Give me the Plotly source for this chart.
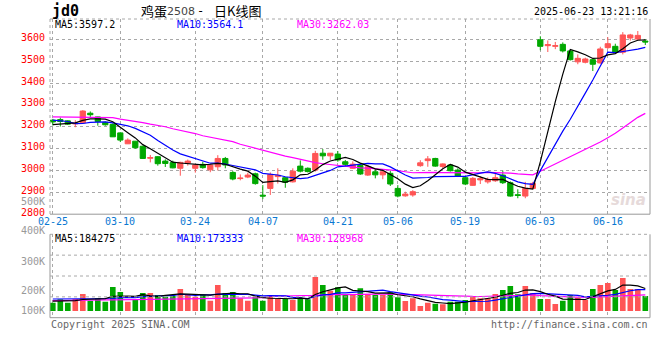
import plotly.graph_objects as go

# ---------------- data ----------------
dates = ["02-25", "02-26", "02-27", "02-28",
         "03-03", "03-04", "03-05", "03-06", "03-07",
         "03-10", "03-11", "03-12", "03-13", "03-14",
         "03-17", "03-18", "03-19", "03-20", "03-21",
         "03-24", "03-25", "03-26", "03-27", "03-28", "03-31",
         "04-01", "04-02", "04-03",
         "04-07", "04-08", "04-09", "04-10", "04-11",
         "04-14", "04-15", "04-16", "04-17", "04-18",
         "04-21", "04-22", "04-23", "04-24", "04-25",
         "04-28", "04-29", "04-30",
         "05-06", "05-07", "05-08", "05-09",
         "05-12", "05-13", "05-14", "05-15", "05-16",
         "05-19", "05-20", "05-21", "05-22", "05-23",
         "05-26", "05-27", "05-28", "05-29", "05-30",
         "06-03", "06-04", "06-05", "06-06",
         "06-09", "06-10", "06-11", "06-12", "06-13",
         "06-16", "06-17", "06-18", "06-19", "06-20",
         "06-23"]

opens = [3230, 3233, 3227, 3213, 3218, 3262, 3245, 3220, 3211, 3172,
         3122, 3134, 3111, 3056, 3063, 3043, 3036, 3010, 3034, 3010,
         3028, 3003, 3017, 3055, 2991, 2963, 2970, 2985, 2887, 2918,
         2972, 2967, 2948, 3020, 3010, 3002, 3079, 3067, 3075, 3040,
         3010, 3023, 2979, 2994, 2980, 2987, 2918, 2884, 2888, 3022,
         3045, 3055, 3018, 3025, 3002, 2967, 2932, 2957, 2948, 2953,
         2979, 2944, 2889, 2883, 2918, 3598, 3571, 3568, 3577, 3547,
         3497, 3495, 3507, 3492, 3562, 3568, 3541, 3606, 3601, 3592]
highs = [3236, 3242, 3230, 3230, 3276, 3270, 3246, 3224, 3215, 3175,
         3147, 3135, 3113, 3071, 3066, 3051, 3045, 3040, 3050, 3030,
         3040, 3027, 3070, 3062, 2997, 2982, 2990, 2990, 2933, 2991,
         3010, 2970, 3010, 3046, 3014, 3090, 3098, 3080, 3089, 3048,
         3042, 3030, 3025, 3008, 3000, 2999, 2933, 2903, 2910, 3047,
         3066, 3058, 3033, 3030, 3010, 2974, 2970, 2974, 2968, 2985,
         2999, 2950, 2914, 2948, 2948, 3614, 3595, 3588, 3586, 3549,
         3531, 3516, 3510, 3566, 3610, 3580, 3633, 3625, 3638, 3600]
lows = [3206, 3201, 3208, 3198, 3216, 3245, 3205, 3205, 3153, 3130,
        3121, 3100, 3053, 3037, 3022, 3016, 3010, 2976, 3022, 2990,
        3008, 2992, 3000, 3010, 2955, 2955, 2965, 2935, 2869, 2888,
        2940, 2921, 2945, 2991, 2991, 2995, 3049, 3048, 3040, 3020,
        3008, 2980, 2975, 2964, 2960, 2929, 2877, 2880, 2880, 3017,
        3017, 3017, 3010, 2995, 2970, 2933, 2930, 2938, 2940, 2948,
        2938, 2880, 2873, 2873, 2915, 3550, 3542, 3555, 3540, 3503,
        3486, 3490, 3455, 3488, 3556, 3535, 3531, 3594, 3595, 3574]
closes = [3222, 3224, 3212, 3216, 3272, 3255, 3224, 3209, 3154, 3139,
          3139, 3104, 3055, 3059, 3031, 3032, 3012, 3037, 3043, 3025,
          3013, 3025, 3055, 3025, 2961, 2965, 2979, 2940, 2883, 2982,
          2978, 2946, 2997, 2997, 2995, 3078, 3067, 3079, 3048, 3028,
          3029, 2984, 3017, 2980, 2994, 2938, 2883, 2892, 2903, 3035,
          3053, 3020, 3030, 2999, 2975, 2938, 2964, 2962, 2959, 2967,
          2944, 2883, 2886, 2918, 2941, 3568, 3576, 3571, 3547, 3507,
          3513, 3510, 3486, 3556, 3580, 3541, 3620, 3620, 3618, 3588]
volumes = [68000, 95000, 68000, 98000, 139000, 84000, 106000, 76000, 196000, 155000,
           76000, 95000, 147000, 147000, 130000, 117000, 122000, 179000, 139000, 117000,
           130000, 84000, 212000, 147000, 155000, 104000, 84000, 117000, 84000, 130000,
           98000, 98000, 90000, 112000, 95000, 277000, 212000, 165000, 193000, 136000,
           136000, 185000, 139000, 130000, 130000, 152000, 112000, 82000, 104000, 41000,
           68000, 59000, 55000, 76000, 76000, 90000, 122000, 104000, 104000, 139000,
           171000, 204000, 136000, 204000, 147000, 98000, 98000, 57000, 84000, 130000,
           108000, 90000, 179000, 212000, 228000, 171000, 268000, 179000, 179000, 122000]

# moving-average values before the full window exists
ma5_head = [3210, 3212, 3215, 3218]
ma10_head = [3230, 3228, 3224, 3214, 3215, 3220, 3222, 3222, 3218]
ma30_head = [3245, 3245, 3245, 3245, 3245, 3245, 3245, 3245, 3242, 3235,
             3230, 3226, 3219, 3212, 3207, 3200, 3191, 3184, 3178, 3169,
             3159, 3152, 3143, 3136, 3132, 3120, 3111, 3100, 3091]
vol_ma5_head = [80000, 80000, 82000, 85000]
vol_ma10_head = [98000, 98000, 98000, 98000, 98000, 98000, 99000, 100000, 102000]
vol_ma30_head = [84000, 84000, 85000, 86000, 88000, 89000, 90000, 90000, 91000, 92000,
                 93000, 95000, 97000, 99000, 100000, 101000, 102000, 103000, 103000, 104000,
                 104000, 105000, 105000, 106000, 106000, 107000, 107000, 108000, 108000]

price_ticks = [2800, 2900, 3000, 3100, 3200, 3300, 3400, 3500, 3600, 3700]
date_ticks = ["02-25", "03-10", "03-24", "04-07", "04-21", "05-06", "05-19", "06-03", "06-16"]
vol_tick_labels = ["500K", "400K", "300K", "200K", "100K"]

title_code = "jd0"
title_name = "鸡蛋"
title_contract = "2508"
title_dash = "-"
title_kind = "日K线图"
timestamp = "2025-06-23 13:21:16"
price_legend = ["MA5:3597.2", "MA10:3564.1", "MA30:3262.03"]
vol_legend = ["MA5:184275", "MA10:173333", "MA30:128968"]


def moving_average(values, n, head):
    out = list(head)
    for i in range(len(head), len(values)):
        out.append(sum(values[i - n + 1:i + 1]) / n)
    return out


ma5 = moving_average(closes, 5, ma5_head)
ma10 = moving_average(closes, 10, ma10_head)
ma30 = moving_average(closes, 30, ma30_head)
vma5 = moving_average(volumes, 5, vol_ma5_head)
vma10 = moving_average(volumes, 10, vol_ma10_head)
vma30 = moving_average(volumes, 30, vol_ma30_head)

# ---------------- layout geometry ----------------
W, H = 660, 360
X_L, X_R = 50, 650
MAIN_T, MAIN_B = 19, 214.2
VOL_T, VOL_B = 234.3, 317.7
PX_PER_UNIT = 0.2186          # pixels per price unit
VOL_PER_PX = 8150             # volume per pixel
VOL_BASE_PX = 311             # pixel row of zero volume


def fx(px):
    return px / W


def fy(py):
    return 1 - py / H


UP = "#ff5555"
DOWN = "#00a800"
GRID = "#a8a8a8"
BORDER = "#999999"
MONO = "DejaVu Sans Mono, Liberation Mono, monospace"
CJK = "Noto Sans CJK SC"

x_range = [(X_L - 52.8) / 7.5, (X_R - 52.8) / 7.5]
price_top = 2800 + (MAIN_B - MAIN_T) / PX_PER_UNIT
vol_range = [-(VOL_B - VOL_BASE_PX) * VOL_PER_PX, (VOL_BASE_PX - VOL_T) * VOL_PER_PX]

fig = go.Figure()

fig.add_trace(go.Candlestick(
    x=dates, open=opens, high=highs, low=lows, close=closes,
    increasing=dict(line=dict(color=UP, width=1), fillcolor=UP),
    decreasing=dict(line=dict(color=DOWN, width=1), fillcolor=DOWN),
    whiskerwidth=0, xaxis="x", yaxis="y", showlegend=False, hoverinfo="skip"))

for vals, col in [(ma30, "#ff00ff"), (ma10, "#0000ff"), (ma5, "#000000")]:
    fig.add_trace(go.Scatter(x=dates, y=vals, mode="lines",
                             line=dict(color=col, width=1.2),
                             xaxis="x", yaxis="y", showlegend=False, hoverinfo="skip"))

bar_colors = [UP if c >= o else DOWN for o, c in zip(opens, closes)]
fig.add_trace(go.Bar(x=dates, y=volumes, marker=dict(color=bar_colors, line=dict(width=0)),
                     width=0.75, xaxis="x2", yaxis="y2", showlegend=False, hoverinfo="skip"))
for vals, col in [(vma30, "#ff00ff"), (vma10, "#0000ff"), (vma5, "#000000")]:
    fig.add_trace(go.Scatter(x=dates, y=vals, mode="lines",
                             line=dict(color=col, width=1.2),
                             xaxis="x2", yaxis="y2", showlegend=False, hoverinfo="skip"))

axis_common = dict(type="category", range=x_range, domain=[fx(X_L), fx(X_R)],
                   tickvals=date_ticks, showticklabels=False, ticks="",
                   showgrid=True, gridcolor=GRID, griddash="dot", gridwidth=1,
                   zeroline=False, showline=False, fixedrange=True)

annotations = []
shapes = []


def text_at(x, y, txt, size, color, family=MONO, anchor="left"):
    annotations.append(dict(x=fx(x), y=fy(y), xref="paper", yref="paper", text=txt,
                            showarrow=False, xanchor=anchor, yanchor="middle",
                            font=dict(family=family, size=size, color=color)))


# price labels
for v in price_ticks:
    annotations.append(dict(x=fx(47), xref="paper", y=v, yref="y", yshift=2,
                            text=str(v), showarrow=False, xanchor="right", yanchor="middle",
                            font=dict(family=MONO, size=10, color="#ff0000")))
# date labels
for d in date_ticks:
    annotations.append(dict(x=d, xref="x", y=fy(221.7), yref="paper",
                            text=d, showarrow=False, xanchor="center", yanchor="middle",
                            font=dict(family=MONO, size=10, color="#0a78d2")))
# volume labels (as positioned on the original chart)
for lab, py in zip(vol_tick_labels, [201, 230.7, 261, 290, 310]):
    text_at(47, py, lab, 10, "#999999", anchor="right")

# header
text_at(50, 11, "<b>" + title_code + "</b>", 15, "#000000")
text_at(139, 10.5, title_name, 13, "#000000", family=CJK)
text_at(165, 11.5, title_contract, 11, "#444444", family="DejaVu Sans")
text_at(200, 11, title_dash, 12, "#000000", family=MONO, anchor="center")
text_at(212, 10.5, title_kind, 13, "#000000", family=CJK)
text_at(650, 12, timestamp, 10, "#000000", anchor="right")

legend_x = [53, 175, 295]
legend_c = ["#000000", "#0000ff", "#ff00ff"]
for t, x0, c in zip(price_legend, legend_x, legend_c):
    text_at(x0, 24.5, t, 10, c)
for t, x0, c in zip(vol_legend, legend_x, legend_c):
    text_at(x0, 238.5, t, 10, c)

text_at(49, 324, "Copyright 2025 SINA.COM", 10, "#666666")
text_at(650, 324, "http://finance.sina.com.cn", 10, "#666666", anchor="right")
text_at(648, 200, "<b><i>sina</i></b>", 15, "#e6dada", family="DejaVu Sans", anchor="right")


# borders
def hline(y, x0, x1, dash, color=BORDER):
    shapes.append(dict(type="line", xref="paper", yref="paper", x0=fx(x0), x1=fx(x1),
                       y0=fy(y), y1=fy(y), line=dict(color=color, width=1, dash=dash)))


def vline(x, y0, y1, dash, color=BORDER):
    shapes.append(dict(type="line", xref="paper", yref="paper", x0=fx(x), x1=fx(x),
                       y0=fy(y0), y1=fy(y1), line=dict(color=color, width=1, dash=dash)))


hline(MAIN_T, X_L, X_R, "dot", GRID)
hline(MAIN_B, X_L, X_R, "solid")
vline(X_L, MAIN_T, MAIN_B, "dot", GRID)
vline(X_R, MAIN_T, MAIN_B, "solid")
hline(VOL_T, X_L, X_R, "dot", GRID)
hline(VOL_B, X_L, X_R, "solid")
vline(X_L, VOL_T, VOL_B, "solid")
vline(X_R, VOL_T, VOL_B, "solid")
for f in [0.25, 0.5, 0.75]:
    hline(VOL_T + (VOL_B - VOL_T) * f, X_L, X_R, "dot", GRID)

fig.update_layout(
    width=W, height=H, margin=dict(l=0, r=0, t=0, b=0),
    paper_bgcolor="#ffffff", plot_bgcolor="#ffffff",
    xaxis=dict(axis_common, anchor="y", rangeslider=dict(visible=False)),
    xaxis2=dict(axis_common, anchor="y2", matches="x"),
    yaxis=dict(domain=[fy(MAIN_B), fy(MAIN_T)], range=[2800, price_top],
               tickvals=price_ticks[1:-1], showticklabels=False, ticks="",
               showgrid=True, gridcolor=GRID, griddash="dot", gridwidth=1,
               zeroline=False, showline=False, fixedrange=True),
    yaxis2=dict(domain=[fy(VOL_B), fy(VOL_T)], range=vol_range,
                showticklabels=False, ticks="", showgrid=False,
                zeroline=False, showline=False, fixedrange=True),
    bargap=0.25, boxgap=0.3, boxgroupgap=0,
    annotations=annotations, shapes=shapes,
    hovermode=False,
)

fig.write_html("out.html", config={"displayModeBar": False},
               post_script="document.body.style.margin='0';document.body.style.overflow='hidden';")
